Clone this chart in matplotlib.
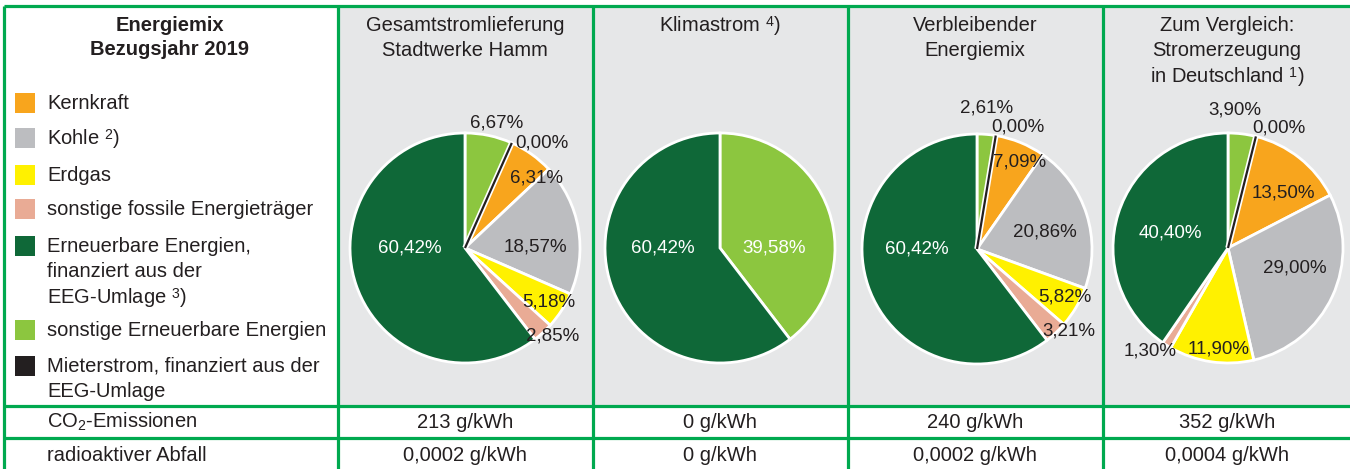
import matplotlib
matplotlib.use("Agg")
import matplotlib.pyplot as plt
import numpy as np
from matplotlib.patches import Rectangle

plt.rcParams['font.family'] = ['Liberation Sans', 'DejaVu Sans']
plt.rcParams['mathtext.fontset'] = 'custom'
plt.rcParams['mathtext.rm'] = 'Liberation Sans'
plt.rcParams['mathtext.it'] = 'Liberation Sans:italic'
plt.rcParams['mathtext.bf'] = 'Liberation Sans:bold'
try:
    import matplotlib._mathtext as _mt
    _mt.FontConstantsBase.sup1 = 0.42
except Exception:
    pass

# ---------------- data ----------------
categories = ["Kernkraft", "Kohle", "Erdgas", "sonstige fossile Energieträger",
              "Erneuerbare Energien, finanziert aus der EEG-Umlage",
              "sonstige Erneuerbare Energien",
              "Mieterstrom, finanziert aus der EEG-Umlage"]
legend_labels = ["Kernkraft", "Kohle $^{2}$)", "Erdgas", "sonstige fossile Energieträger",
                 "Erneuerbare Energien,\nfinanziert aus der\nEEG-Umlage $^{3}$)",
                 "sonstige Erneuerbare Energien",
                 "Mieterstrom, finanziert aus der\nEEG-Umlage"]
pie_titles = ["Gesamtstromlieferung\nStadtwerke Hamm", "Klimastrom $^{4}$)",
              "Verbleibender\nEnergiemix", "Zum Vergleich:\nStromerzeugung\nin Deutschland $^{1}$)"]
gesamt = [6.31, 18.57, 5.18, 2.85, 60.42, 6.67, 0.00]
klima = [0.0, 0.0, 0.0, 0.0, 60.42, 39.58, 0.0]
verbleibend = [7.09, 20.86, 5.82, 3.21, 60.42, 2.61, 0.00]
deutschland = [13.50, 29.00, 11.90, 1.30, 40.40, 3.90, 0.00]
co2_values = ["213 g/kWh", "0 g/kWh", "240 g/kWh", "352 g/kWh"]
abfall_values = ["0,0002 g/kWh", "0 g/kWh", "0,0002 g/kWh", "0,0004 g/kWh"]
row_labels = ["CO$_{2}$-Emissionen", "radioaktiver Abfall"]
header = "Energiemix\nBezugsjahr 2019"

# ---------------- style ----------------
colors = ['#f8a51d', '#bcbdc0', '#fff100', '#e9ab95', '#0f6838', '#8cc63f', '#231f20']
draw_order = [5, 6, 0, 1, 2, 3, 4]   # clockwise from 12 o'clock
TXT = '#231f20'
GRID = '#00a94f'
GRAY = '#e6e7e8'
W, H = 1350, 469

pies = [gesamt, klima, verbleibend, deutschland]
show_zero = [True, False, True, True]
centers = [(465, 248), (720, 248), (977, 249), (1228, 248)]
R = 115
# per-pie label placement: category index -> (radius factor, angle nudge deg)
label_pos = [
    {5: (1.12, -2), 6: (1.13, -12), 0: (0.87, -10), 1: (0.61, -9), 2: (0.87, 0), 3: (1.08, 2), 4: (0.48, -19)},
    {5: (0.47, -19), 4: (0.50, -19)},
    {5: (1.23, 1), 6: (1.12, -9), 0: (0.84, -4), 1: (0.61, -3.5), 2: (0.87, 2), 3: (1.07, 5), 4: (0.52, -19)},
    {5: (1.20, 4), 6: (1.13, -9), 0: (0.68, -7), 1: (0.61, 8), 2: (0.88, 3), 3: (1.12, -5), 4: (0.52, 3)},
]
pie_label_white = [set([4]), set([4, 5]), set([4]), set([4])]


def Y(y):
    return H - y


fig = plt.figure(figsize=(13.5, 4.69), dpi=100)
ax = fig.add_axes([0, 0, 1, 1])
ax.set_xlim(0, W)
ax.set_ylim(0, H)
ax.axis('off')

# backgrounds
ax.add_patch(Rectangle((338, Y(406)), W - 338, 400, facecolor=GRAY, edgecolor='none', zorder=0))

# grid lines
lw = 2.3
for x in [4, 338, 593, 848, 1103]:
    ax.plot([x, x], [Y(6), Y(469)], color=GRID, lw=lw, zorder=5, solid_capstyle='butt')
for y in [6, 406, 438]:
    ax.plot([4, W], [Y(y), Y(y)], color=GRID, lw=lw, zorder=5, solid_capstyle='butt')

# header
ax.text(170, Y(37.5), header, ha='center', va='center', fontsize=14.5, fontweight='bold',
        color=TXT, linespacing=1.3)

# legend
leg_y = [103, 138, 175, 209, 246, 330, 366]
for i, lab in enumerate(legend_labels):
    yc = leg_y[i]
    ax.add_patch(Rectangle((15, Y(yc) - 10), 20, 20, facecolor=colors[i], edgecolor='none', zorder=2))
    for j, line in enumerate(lab.split('\n')):
        ax.text(47, Y(yc + j * 25.7), line, ha='left', va='center', fontsize=14.5, color=TXT)

# titles
col_centers = [465, 720, 975, 1227]
for k, t in enumerate(pie_titles):
    for j, line in enumerate(t.split('\n')):
        ax.text(col_centers[k], Y(25 + j * 25.5), line, ha='center', va='center',
                fontsize=14.5, color=TXT)

# pies
for k, vals in enumerate(pies):
    cx, cy = centers[k]
    cy = Y(cy)
    total = sum(vals)
    cum = 0.0
    nz_vals, nz_cols = [], []
    for i in draw_order:
        v = vals[i]
        if v > 0:
            nz_vals.append(v)
            nz_cols.append(colors[i])
    ax.pie(nz_vals, colors=nz_cols, startangle=90, counterclock=False,
           center=(cx, cy), radius=R, frame=True,
           wedgeprops=dict(edgecolor='white', linewidth=2.0, zorder=2))
    for i in draw_order:
        v = vals[i]
        if v <= 0 and not (show_zero[k] and i == 6):
            cum += v
            continue
        mid = 90 - 360.0 * (cum + v / 2.0) / total
        if v <= 0:
            a = np.deg2rad(mid)
            ex, ey = cx + R * np.cos(a), cy + R * np.sin(a)
            ax.plot([cx, ex], [cy, ey], color='white', lw=4.0, zorder=3, solid_capstyle='butt')
            ax.plot([cx, ex], [cy, ey], color=colors[i], lw=1.6, zorder=4, solid_capstyle='butt')
        if i in label_pos[k]:
            rf, nudge = label_pos[k][i]
            a = np.deg2rad(mid + nudge)
            tc = 'white' if i in pie_label_white[k] else TXT
            ax.text(cx + rf * R * np.cos(a), cy + rf * R * np.sin(a),
                    f"{v:.2f}".replace('.', ',') + '%', ha='center', va='center',
                    fontsize=13.5, color=tc, zorder=6)
        cum += v

ax.set_xlim(0, W)
ax.set_ylim(0, H)
ax.set_aspect('auto')
ax.axis('off')

# bottom rows
for r, (lab, vals) in enumerate(zip(row_labels, [co2_values, abfall_values])):
    yc = [422, 455][r]
    ax.text(47, Y(yc), lab, ha='left', va='center', fontsize=14.5, color=TXT)
    for k, v in enumerate(vals):
        ax.text(col_centers[k], Y(yc), v, ha='center', va='center', fontsize=14.5, color=TXT)

fig.savefig('out.png', dpi=100, facecolor='white')
